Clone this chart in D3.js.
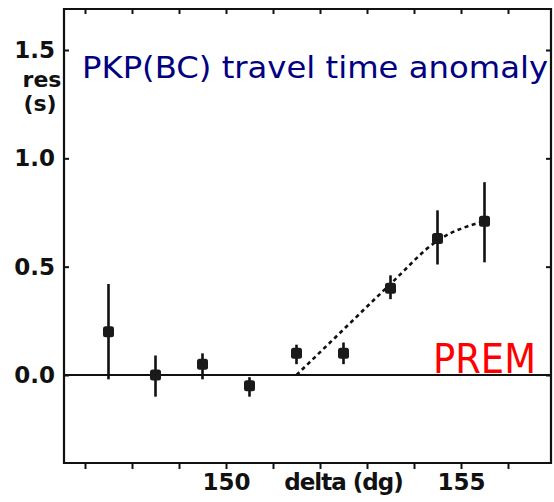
<!DOCTYPE html>
<html>
<head>
<meta charset="utf-8">
<script src="https://cdn.jsdelivr.net/npm/d3@7"></script>
<style>
  body { margin: 0; background: #fff; }
  svg { display: block; }
</style>
</head>
<body>
<div id="chart"></div>
<script>
const width = 554;
const height = 502;

// distance (deg), residual (s), error bar ends
const delta = [147.5, 148.5, 149.5, 150.5, 151.5, 152.5, 153.5, 154.5, 155.5];
const res = [0.2, 0.0, 0.05, -0.05, 0.1, 0.1, 0.4, 0.63, 0.71];
const resLow = [-0.02, -0.1, -0.02, -0.1, 0.05, 0.05, 0.35, 0.51, 0.52];
const resHigh = [0.42, 0.09, 0.1, -0.01, 0.14, 0.15, 0.46, 0.76, 0.89];

// dashed model curve
const curveDelta = [151.5, 152.5, 153.5, 154.5, 155.5];
const curveRes = [0, 0.21, 0.42, 0.62, 0.71];

const xTicks = [147, 148, 149, 150, 151, 152, 153, 154, 155, 156];
const xLabels = [150, 155];
const yTicks = [0, 0.5, 1.0, 1.5];

const title = "PKP(BC) travel time anomaly";
const refLabel = "PREM";

const frameL = 64, frameR = 551, frameT = 9, frameB = 463;

const x = d3.scaleLinear().domain([150, 155]).range([226, 461]);
const y = d3.scaleLinear().domain([0, 1.5]).range([375, 50]);

const svg = d3.select('#chart')
    .append('svg')
    .attr('width', width)
    .attr('height', height);

// frame
const ink = '#111';
svg.append('path')
    .attr('d', `M${frameL},${frameT}H${frameR}V${frameB}H${frameL}Z`)
    .style('fill', 'none')
    .style('stroke', ink)
    .style('stroke-width', 2.2);

// bottom axis: ticks outward, only 150 and 155 labelled
const xAxis = svg.append('g')
    .attr('transform', `translate(0,${frameB})`)
    .call(d3.axisBottom(x)
        .tickValues(xTicks)
        .tickSize(6)
        .tickPadding(5)
        .tickFormat(d => xLabels.includes(d) ? d : ''));
xAxis.select('.domain').remove();

// top axis: ticks inward
const xTop = svg.append('g')
    .attr('transform', `translate(0,${frameT})`)
    .call(d3.axisBottom(x).tickValues(xTicks).tickSize(5).tickFormat(''));
xTop.select('.domain').remove();

// left axis: ticks inward, labels outside
const yAxis = svg.append('g')
    .attr('transform', `translate(${frameL},0)`)
    .call(d3.axisRight(y)
        .tickValues(yTicks)
        .tickSize(5)
        .tickFormat(d3.format('.1f')));
yAxis.select('.domain').remove();
yAxis.selectAll('text')
    .attr('x', -9)
    .attr('text-anchor', 'end');

// right axis: ticks inward
const yRight = svg.append('g')
    .attr('transform', `translate(${frameR},0)`)
    .call(d3.axisLeft(y).tickValues(yTicks).tickSize(5).tickFormat(''));
yRight.select('.domain').remove();

svg.selectAll('.tick line')
    .style('stroke', ink)
    .style('stroke-width', 2);

svg.selectAll('.tick text')
    .style('font-family', '"DejaVu Sans", sans-serif')
    .style('font-weight', 'bold')
    .style('font-size', '23px')
    .style('fill', ink);

// axis titles
svg.append('text')
    .attr('x', x(152.5))
    .attr('y', frameB + 27)
    .attr('text-anchor', 'middle')
    .style('font-family', '"DejaVu Sans", sans-serif')
    .style('font-weight', 'bold')
    .style('font-size', '23px')
    .style('letter-spacing', '-1px')
    .style('fill', ink)
    .text('delta (dg)');

const yTitle = svg.append('text')
    .attr('text-anchor', 'middle')
    .style('font-family', '"DejaVu Sans", sans-serif')
    .style('font-weight', 'bold')
    .style('font-size', '22px')
    .style('fill', ink);
yTitle.append('tspan').attr('x', 42).attr('y', 87).text('res');
yTitle.append('tspan').attr('x', 40).attr('y', 111).text('(s)');

// PREM reference line
svg.append('line')
    .attr('x1', frameL)
    .attr('x2', frameR)
    .attr('y1', y(0))
    .attr('y2', y(0))
    .style('stroke', ink)
    .style('stroke-width', 2.2);

// dashed curve
const line = d3.line()
    .x((d, i) => x(curveDelta[i]))
    .y(d => y(d))
    .curve(d3.curveMonotoneX);

svg.append('path')
    .datum(curveRes)
    .attr('d', line)
    .style('fill', 'none')
    .style('stroke', ink)
    .style('stroke-width', 2.6)
    .style('stroke-dasharray', '4,3.5');

// error bars
svg.selectAll('.err')
    .data(delta)
    .join('line')
    .attr('class', 'err')
    .attr('x1', d => x(d))
    .attr('x2', d => x(d))
    .attr('y1', (d, i) => y(resHigh[i]))
    .attr('y2', (d, i) => y(resLow[i]))
    .style('stroke', ink)
    .style('stroke-width', 2.6);

// markers
svg.selectAll('.pt')
    .data(delta)
    .join('rect')
    .attr('class', 'pt')
    .attr('x', d => x(d) - 5.5)
    .attr('y', (d, i) => y(res[i]) - 5.5)
    .attr('width', 11)
    .attr('height', 11)
    .attr('rx', 2.5)
    .style('fill', '#1a1a1a');

// overlaid labels
svg.append('text')
    .attr('x', 82)
    .attr('y', 78)
    .attr('textLength', 466)
    .attr('lengthAdjust', 'spacingAndGlyphs')
    .style('font-family', '"DejaVu Sans", sans-serif')
    .style('font-size', '31px')
    .style('fill', '#000080')
    .text(title);

svg.append('text')
    .attr('x', 433)
    .attr('y', 373)
    .attr('textLength', 103)
    .attr('lengthAdjust', 'spacingAndGlyphs')
    .style('font-family', '"DejaVu Sans", sans-serif')
    .style('font-size', '41px')
    .style('fill', '#ff0000')
    .text(refLabel);
</script>
</body>
</html>
